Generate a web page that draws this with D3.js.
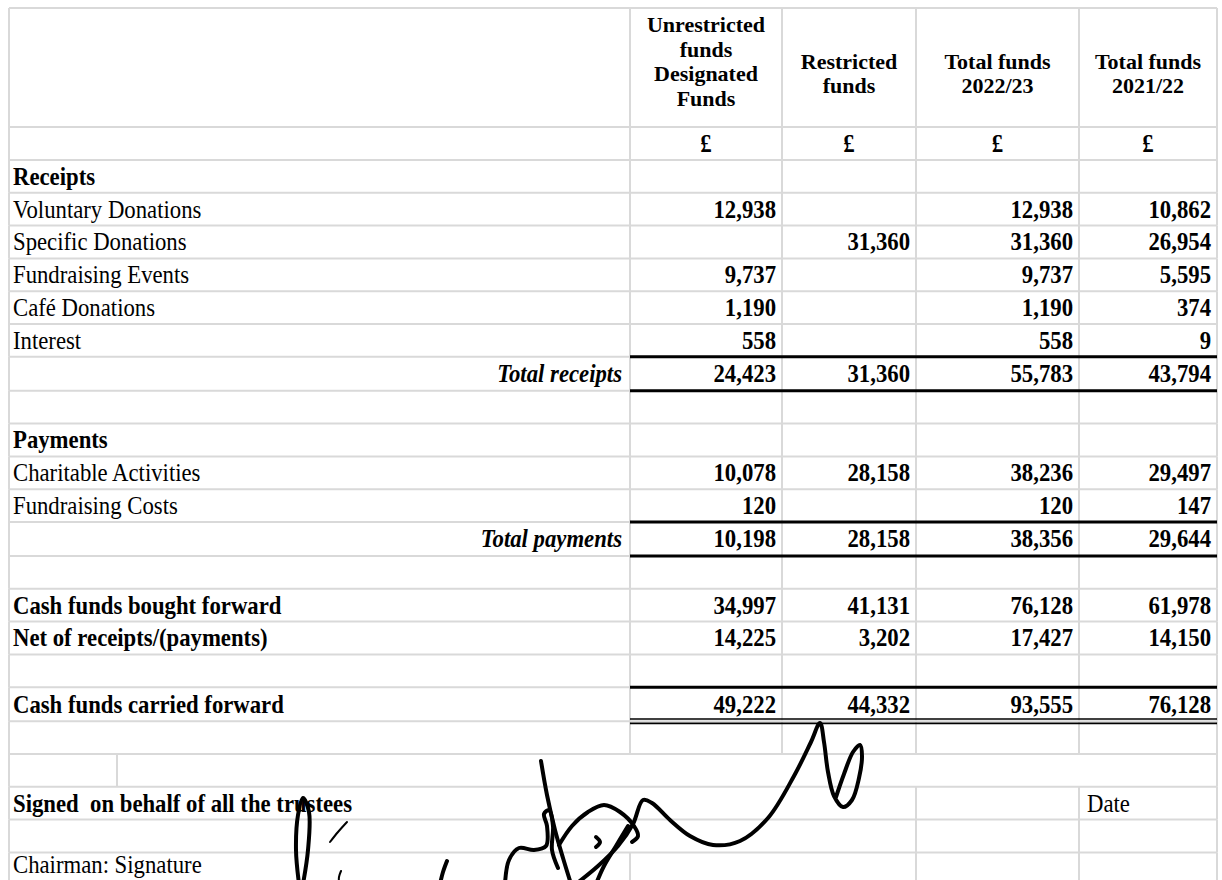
<!DOCTYPE html>
<html>
<head>
<meta charset="utf-8">
<script src="https://cdn.jsdelivr.net/npm/d3@7"></script>
<style>
	body { margin: 0; background: #fff; }
	svg { display: block; font-family: "Liberation Serif", "Times New Roman", serif; }
	text { white-space: pre; }
</style>
</head>
<body>
<svg id="svg" width="1222" height="880"></svg>
<script>
"use strict";

// column headings (trailing "" keeps the wrapped cell block the way the sheet had it)
const columnHeads = [
	["Unrestricted", "funds", "Designated", "Funds", ""],
	["Restricted", "funds"],
	["Total funds", "2022/23"],
	["Total funds", "2021/22"]
];
const currencyRow = ["£", "£", "£", "£"];

const rowLabels = [
	"Receipts", "Voluntary Donations", "Specific Donations", "Fundraising Events",
	"Café Donations", "Interest", "Total receipts", "", "Payments",
	"Charitable Activities", "Fundraising Costs", "Total payments", "",
	"Cash funds bought forward", "Net of receipts/(payments)", "",
	"Cash funds carried forward", "", "", "Signed  on behalf of all the trustees",
	"", "Chairman: Signature"
];
const rowTypes = [
	"section", "item", "item", "item", "item", "item", "total", "blank", "section",
	"item", "item", "total", "blank", "strong", "strong", "blank", "grand",
	"blank", "split", "signed", "signedBlank", "chair"
];

const unrestrictedFunds = [null, 12938, null, 9737, 1190, 558, 24423, null, null, 10078, 120, 10198, null, 34997, 14225, null, 49222, null, null, null, null, null];
const restrictedFunds = [null, null, 31360, null, null, null, 31360, null, null, 28158, null, 28158, null, 41131, 3202, null, 44332, null, null, null, null, null];
const totalFunds2223 = [null, 12938, 31360, 9737, 1190, 558, 55783, null, null, 38236, 120, 38356, null, 76128, 17427, null, 93555, null, null, null, null, null];
const totalFunds2122 = [null, 10862, 26954, 5595, 374, 9, 43794, null, null, 29497, 147, 29644, null, 61978, 14150, null, 76128, null, null, null, null, null];
const seriesCols = [unrestrictedFunds, restrictedFunds, totalFunds2223, totalFunds2122];

const dateLabel = "Date";

// signature strokes (pen points)
const sigThick = [
	[[576, 884], [598, 866], [618, 846], [633, 824], [643, 800], [652, 803], [670, 820], [690, 836], [713, 845], [740, 841], [768, 818], [794, 776], [811, 742], [820, 723], [824, 742], [828, 772], [834, 796], [843, 807], [852, 800], [859, 778], [862, 756], [860, 745], [853, 752], [844, 774], [836, 797]],
	[[541, 761], [547, 795], [555, 830], [563, 858], [571, 884]],
	[[299, 884], [296, 850], [298, 815], [303, 798], [309, 812], [308, 850], [303, 884]],
	[[505, 884], [509, 860], [519, 848], [534, 850], [546, 846], [547, 826], [544, 814], [549, 810], [553, 826], [552, 850], [558, 868]],
	[[559, 845], [572, 826], [588, 812], [604, 805], [620, 812], [634, 826], [638, 836], [632, 842]],
	[[447, 861], [443, 872], [440, 884]],
	[[596, 837], [600, 842], [596, 847]],
	[[628, 826], [616, 846], [604, 866], [596, 884]]
];
const sigThin = [
	[[330, 842], [338, 832], [347, 822]],
	[[341, 871], [339, 877], [339, 884]]
];

const W = 1222, H = 880;
const svg = d3.select("#svg");
svg.append("rect").attr("width", W).attr("height", H).attr("fill", "#fff");

// sheet layout
const colX = [9, 630, 782, 916, 1079, 1217];
const headTop = 8, headBottom = 127, curBottom = 160;
const fontSize = 26, headFont = 22;
const squeeze = 0.875; // scan text is narrow, squash it sideways
const capMid = 8.4;

const rowH = rowTypes.map((t) => (t === "total" || t === "grand" ? 34 : 32.8));
const rowTop = [curBottom].concat(Array.from(d3.cumsum(rowH), (d) => curBottom + d));

const y = d3.scaleOrdinal().domain(d3.range(rowLabels.length)).range(rowTop.slice(0, -1));
const valueX = d3.scaleOrdinal().domain(d3.range(4)).range(colX.slice(2).map((d) => d - 6));
const headX = d3.scaleOrdinal().domain(d3.range(4)).range(d3.range(4).map((i) => (colX[i + 1] + colX[i + 2]) / 2));

// put text at x,y with the sideways squeeze
const place = (fx, fy, sx) => function (d, i) {
	return `translate(${fx(d, i)},${fy(d, i)}) scale(${sx || squeeze},1)`;
};

const grid = svg.append("g").attr("id", "grid")
	.style("stroke", "#d9d9d9").style("stroke-width", "2px");

// horizontal rules
const hLines = [headTop, headBottom].concat(rowTop);
grid.selectAll(".hl").data(hLines).enter().append("line")
	.attr("class", "hl")
	.attr("x1", colX[0]).attr("x2", colX[5])
	.attr("y1", (d) => d).attr("y2", (d) => d);

// vertical rules, per row depending on merged cells
const segs = [
	{ y0: headTop, y1: headBottom, xs: colX },
	{ y0: headBottom, y1: curBottom, xs: colX }
];
rowTypes.forEach((t, i) => {
	let xs = colX;
	if (t === "split") xs = [colX[0], 117, colX[5]];
	if (t === "signed" || t === "signedBlank") xs = [colX[0], colX[3], colX[4], colX[5]];
	if (t === "chair") xs = [colX[0], colX[1], colX[3], colX[4], colX[5]];
	segs.push({ y0: rowTop[i], y1: rowTop[i + 1], xs: xs });
});
segs.forEach((s) => {
	grid.selectAll(null).data(s.xs).enter().append("line")
		.attr("x1", (d) => d).attr("x2", (d) => d)
		.attr("y1", s.y0).attr("y2", s.y1);
});

// heavy rules round totals
const rules = svg.append("g").attr("id", "rules").style("stroke", "#000");
rowTypes.forEach((t, i) => {
	if (t === "total") {
		[rowTop[i], rowTop[i + 1]].forEach((yy) => {
			rules.append("line").attr("x1", colX[1]).attr("x2", colX[5])
				.attr("y1", yy).attr("y2", yy).style("stroke-width", "3px");
		});
	}
	if (t === "grand") {
		rules.append("line").attr("x1", colX[1]).attr("x2", colX[5])
			.attr("y1", rowTop[i]).attr("y2", rowTop[i]).style("stroke-width", "3px");
		[-2.2, 2.2].forEach((o) => {
			rules.append("line").attr("x1", colX[1]).attr("x2", colX[5])
				.attr("y1", rowTop[i + 1] + o).attr("y2", rowTop[i + 1] + o)
				.style("stroke-width", "1.6px");
		});
	}
});

const txt = svg.append("g").attr("id", "text")
	.style("font-size", fontSize + "px").style("fill", "#000");

// headings
const headCenter = 73.7, lineGap = 24.6;
columnHeads.forEach((lines, c) => {
	txt.selectAll(null).data(lines).enter().append("text")
		.attr("transform", place(() => headX(c),
			(d, k) => headCenter - ((lines.length - 1) * lineGap) / 2 + k * lineGap + 7.4, 1))
		.attr("text-anchor", "middle")
		.attr("font-weight", "bold")
		.style("font-size", headFont + "px")
		.text((d) => d);
});
txt.selectAll(".cur").data(currencyRow).enter().append("text")
	.attr("class", "cur")
	.attr("transform", place((d, i) => headX(i), () => (headBottom + curBottom) / 2 + capMid))
	.attr("text-anchor", "middle")
	.attr("font-weight", "bold")
	.text((d) => d);

// row labels
const mid = (i) => Math.min(y(i) + rowH[i] / 2 + capMid, H - 7);
txt.selectAll(".lab").data(rowLabels).enter().append("text")
	.attr("class", "lab")
	.attr("transform", place((d, i) => (rowTypes[i] === "total" ? colX[1] - 8 : 13), (d, i) => mid(i)))
	.attr("text-anchor", (d, i) => (rowTypes[i] === "total" ? "end" : "start"))
	.attr("font-weight", (d, i) => (["item", "chair", "blank"].includes(rowTypes[i]) ? "normal" : "bold"))
	.attr("font-style", (d, i) => (rowTypes[i] === "total" ? "italic" : "normal"))
	.text((d) => d);

txt.append("text")
	.attr("transform", place(() => colX[4] + 8, () => mid(rowTypes.indexOf("signed"))))
	.text(dateLabel);

// values
const fmt = d3.format(",");
seriesCols.forEach((vals, c) => {
	txt.selectAll(null).data(vals.map((v, i) => ({ v: v, i: i })).filter((d) => d.v !== null))
		.enter().append("text")
		.attr("transform", place(() => valueX(c), (d) => mid(d.i)))
		.attr("text-anchor", "end")
		.attr("font-weight", "bold")
		.text((d) => fmt(d.v));
});

// signature on top
const pen = d3.line().curve(d3.curveCatmullRom.alpha(0.5));
const sig = svg.append("g").attr("id", "signature")
	.style("fill", "none").style("stroke", "#000")
	.style("stroke-linecap", "round").style("stroke-linejoin", "round");
sig.selectAll(".thick").data(sigThick).enter().append("path")
	.attr("class", "thick").attr("d", pen).style("stroke-width", "4px");
sig.selectAll(".thin").data(sigThin).enter().append("path")
	.attr("class", "thin").attr("d", pen).style("stroke-width", "2px");
</script>
</body>
</html>
